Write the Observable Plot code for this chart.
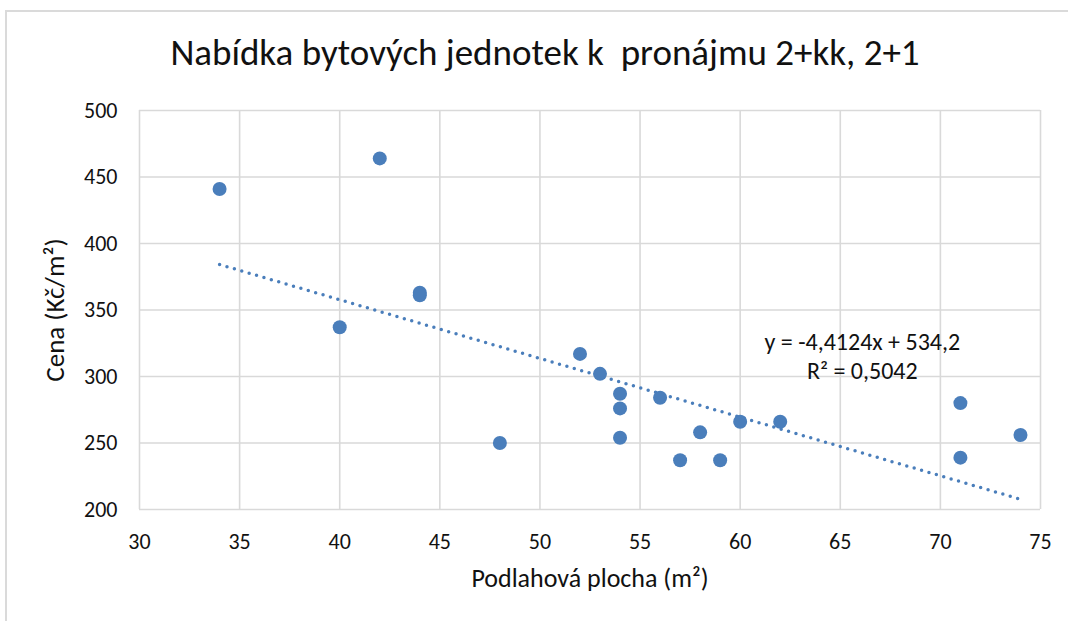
<!DOCTYPE html>
<html>
<head>
<meta charset="utf-8">
<script src="https://cdn.jsdelivr.net/npm/d3@7"></script>
<script src="https://cdn.jsdelivr.net/npm/@observablehq/plot@0.6"></script>
<style>
  html, body { margin: 0; padding: 0; background: #fff; width: 1068px; height: 621px; overflow: hidden; }
  #frame { position: absolute; left: 5px; top: 10px; width: 1200px; height: 800px;
           border-top: 2px solid #dadada; border-left: 2px solid #dadada; }
  #title { position: absolute; left: 0; top: 0; width: 1090px; text-align: center;
           font-family: Calibri, Carlito, Lato, sans-serif; font-size: 37px; line-height: 37px;
           padding-top: 34px; color: #111; white-space: pre; }
  #chart { position: absolute; left: 0; top: 95px; }
</style>
</head>
<body>
<div id="frame"></div>
<div id="title">Nabídka bytových jednotek k  pronájmu 2+kk, 2+1</div>
<div id="chart"></div>
<script>
// Data
const area  = [34, 42, 40, 44, 44, 48, 52, 53, 54, 54, 54, 56, 57, 58, 59, 60, 62, 71, 71, 74];
const price = [441, 464, 337, 363, 361, 250, 317, 302, 287, 276, 254, 284, 237, 258, 237, 266, 266, 280, 239, 256];
const xTicks = [30, 35, 40, 45, 50, 55, 60, 65, 70, 75];
const yTicks = [200, 250, 300, 350, 400, 450, 500];
const trendSlope = -4.4124;
const trendIntercept = 534.2;
const rSquared = 0.5042;
const xLabel = "Podlahová plocha (m²)";
const yLabel = "Cena (Kč/m²)";

const points = area.map((a, i) => ({area: a, price: price[i]}));
const xMin = d3.min(area), xMax = d3.max(area);
const trend = [xMin, xMax].map(a => ({area: a, price: trendSlope * a + trendIntercept}));
const cz = v => String(v).replace(".", ",");
const eqText = `y = ${cz(trendSlope)}x + ${cz(trendIntercept)}\nR² = ${cz(rSquared)}`;

const blue = "#4a7ebb";
const grid = "#d9d9d9";

const chart = Plot.plot({
  width: 1068,
  height: 526,
  marginTop: 15,
  marginLeft: 139,
  marginRight: 28,
  marginBottom: 112,
  style: {fontFamily: "Calibri, Carlito, Lato, sans-serif", color: "#111", background: "transparent", overflow: "visible"},
  x: {domain: [30, 75]},
  y: {domain: [200, 500]},
  marks: [
    Plot.gridX(xTicks, {stroke: grid, strokeOpacity: 1, strokeWidth: 1.6}),
    Plot.gridY(yTicks, {stroke: grid, strokeOpacity: 1, strokeWidth: 1.6}),
    Plot.axisX(xTicks, {tickSize: 0, tickPadding: 24, fontSize: 22, label: null}),
    Plot.axisY(yTicks, {tickSize: 0, tickPadding: 22, fontSize: 22, label: null}),
    Plot.text([xLabel], {frameAnchor: "bottom", dy: 69, lineAnchor: "middle", textAnchor: "middle", fontSize: 26, fill: "#111"}),
    Plot.text([yLabel], {frameAnchor: "left", dx: -84, rotate: -90, lineAnchor: "middle", textAnchor: "middle", fontSize: 27, fill: "#111"}),
    Plot.line(trend, {x: "area", y: "price", stroke: blue, strokeWidth: 3.5, strokeDasharray: "0 7.7", strokeLinecap: "round"}),
    Plot.dot(points, {x: "area", y: "price", r: 7, fill: blue, stroke: "none"}),
    Plot.text([eqText], {x: 66.1, y: 316, fontSize: 24, lineHeight: 1.22, textAnchor: "middle", lineAnchor: "middle", fill: "#111"})
  ]
});
document.getElementById("chart").appendChild(chart);
</script>
</body>
</html>
